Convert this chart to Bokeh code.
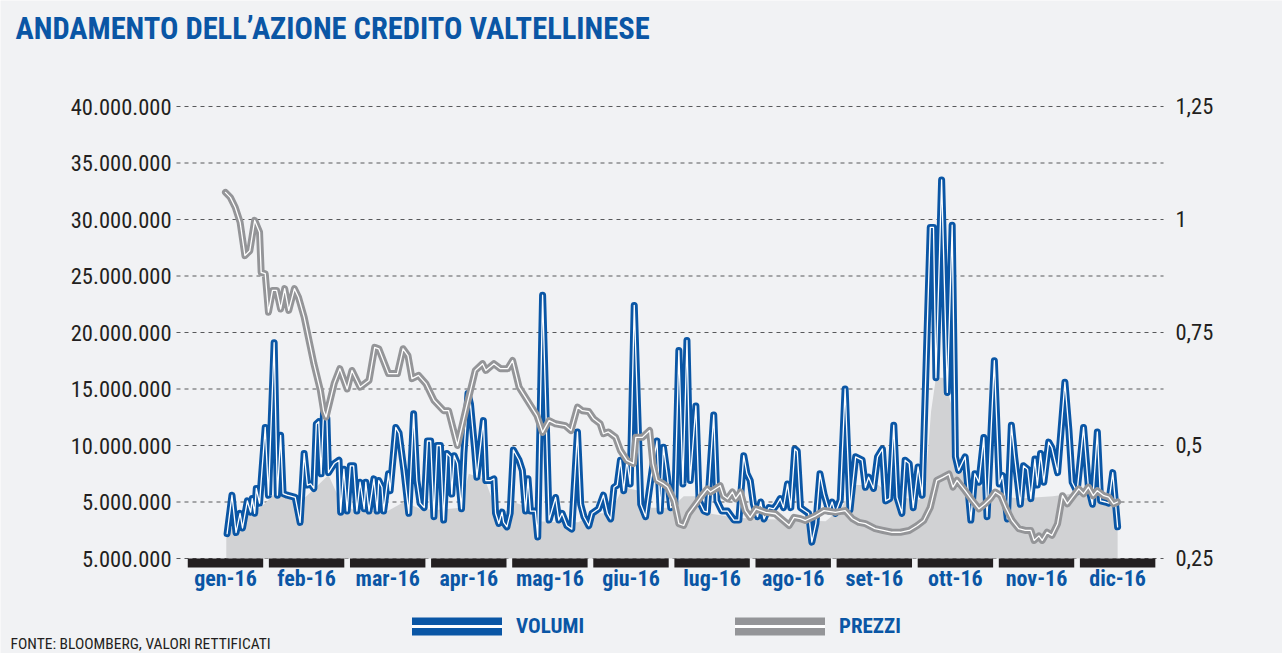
from bokeh.plotting import figure
from bokeh.models import Range1d, LinearAxis, FixedTicker, Label, Legend, LegendItem
from bokeh.embed import file_html
from bokeh.resources import INLINE

# ---------------- data ----------------
TITOLO = "ANDAMENTO DELL\u2019AZIONE CREDITO VALTELLINESE"
FONTE = "FONTE: BLOOMBERG, VALORI RETTIFICATI"
serie = ["VOLUMI", "PREZZI"]

mesi = ["gen-16", "feb-16", "mar-16", "apr-16", "mag-16", "giu-16",
        "lug-16", "ago-16", "set-16", "ott-16", "nov-16", "dic-16"]

tick_volumi = [0, 5, 10, 15, 20, 25, 30, 35, 40]
etichette_volumi = ["5.000.000", "5.000.000", "10.000.000", "15.000.000", "20.000.000",
                    "25.000.000", "30.000.000", "35.000.000", "40.000.000"]
tick_prezzi = [0.25, 0.5, 0.75, 1.0, 1.25]
etichette_prezzi = ["0,25", "0,5", "0,75", "1", "1,25"]

# time in months (0 = gen-16 ... 11 = dic-16), volumes in millions of shares
vol_t = [0.02, 0.08, 0.13, 0.18, 0.21, 0.27, 0.31, 0.33, 0.36, 0.38, 0.42, 0.45, 0.49, 0.53, 0.60,
         0.64, 0.68, 0.71, 0.76, 0.86, 0.92, 0.97, 1.01, 1.05, 1.09, 1.12, 1.15, 1.18, 1.21, 1.25,
         1.27, 1.34, 1.40, 1.42, 1.46, 1.50, 1.54, 1.58, 1.62, 1.66, 1.71, 1.73, 1.77, 1.83, 1.87,
         1.89, 1.93, 1.95, 2.01, 2.03, 2.10, 2.14, 2.20, 2.26, 2.32, 2.36, 2.40, 2.45, 2.49, 2.53,
         2.57, 2.61, 2.65, 2.69, 2.73, 2.77, 2.79, 2.82, 2.86, 2.91, 2.94, 2.99, 3.02, 3.07, 3.10,
         3.18, 3.21, 3.27, 3.31, 3.33, 3.37, 3.41, 3.43, 3.47, 3.51, 3.55, 3.62, 3.66, 3.70, 3.73,
         3.76, 3.82, 3.85, 3.91, 3.99, 4.07, 4.11, 4.15, 4.21, 4.27, 4.34, 4.38, 4.42, 4.48, 4.52,
         4.56, 4.60, 4.66, 4.71, 4.75, 4.79, 4.83, 4.87, 4.91, 4.95, 4.99, 5.04, 5.12, 5.18, 5.26,
         5.32, 5.36, 5.40, 5.45, 5.49, 5.54, 5.59, 5.64, 5.69, 5.73, 5.80, 5.84, 5.90, 5.94, 6.02,
         6.06, 6.12, 6.19, 6.27, 6.33, 6.39, 6.43, 6.47, 6.51, 6.56, 6.60, 6.64, 6.70, 6.76, 6.80,
         6.84, 6.88, 6.93, 6.97, 7.02, 7.05, 7.09, 7.15, 7.19, 7.23, 7.28, 7.33, 7.38, 7.44, 7.48,
         7.52, 7.58, 7.64, 7.70, 7.77, 7.85, 7.89, 7.93, 7.99, 8.04, 8.10, 8.14, 8.19, 8.24, 8.28,
         8.34, 8.38, 8.43, 8.48, 8.54, 8.59, 8.69, 8.73, 8.76, 8.83, 8.90, 8.96, 9.00, 9.04, 9.12,
         9.19, 9.24, 9.29, 9.35, 9.39, 9.48, 9.54, 9.58, 9.64, 9.69, 9.73, 9.80, 9.84, 9.89, 9.93,
         9.98, 10.01, 10.05, 10.09, 10.15, 10.19, 10.26, 10.35, 10.40, 10.44, 10.50, 10.58, 10.64,
         10.69, 10.75, 10.79, 10.85, 10.89, 10.94, 11.00]
vol_v = [2.2, 5.6, 2.3, 4.0, 2.7, 5.1, 4.1, 5.3, 4.0, 6.2, 4.9, 7.8, 11.6, 5.6, 19.1,
         5.6, 10.9, 5.75, 5.6, 5.4, 3.2, 9.3, 6.5, 6.6, 6.2, 11.9, 12.1, 7.5, 13.1, 12.4,
         7.6, 8.4, 8.7, 4.1, 7.9, 4.2, 8.2, 8.2, 4.2, 6.75, 4.4, 6.75, 4.2, 7.05, 4.2,
         6.9, 6.3, 4.2, 7.5, 6.0, 11.6, 11.1, 7.8, 4.0, 12.8, 6.9, 4.9, 4.5, 10.4, 10.4,
         3.7, 10.0, 10.0, 3.4, 9.3, 9.0, 5.7, 9.1, 8.4, 4.4, 9.3, 14.6, 13.7, 9.85, 7.2,
         12.2, 6.9, 6.9, 7.05, 4.0, 3.1, 4.1, 3.2, 2.8, 4.0, 9.6, 8.7, 7.8, 4.2, 7.05,
         4.2, 4.2, 1.9, 23.3, 3.4, 5.4, 3.4, 4.0, 2.9, 2.6, 11.2, 4.8, 3.7, 2.9, 4.0,
         4.2, 4.4, 5.6, 4.0, 3.5, 6.3, 6.5, 8.7, 6.0, 8.7, 6.6, 22.4, 4.8, 3.7, 7.8,
         10.4, 4.2, 9.85, 7.2, 4.5, 4.8, 18.4, 6.6, 19.3, 6.9, 13.5, 5.1, 4.2, 4.1, 12.7,
         5.1, 4.2, 4.2, 3.4, 3.4, 9.1, 7.5, 6.9, 4.8, 3.7, 5.0, 3.5, 4.5, 4.4, 4.8,
         5.3, 4.5, 6.6, 4.5, 9.7, 9.5, 4.5, 4.2, 4.0, 1.45, 3.1, 7.5, 5.7, 4.2, 5.0,
         4.0, 5.2, 15.0, 4.3, 9.0, 8.7, 6.3, 7.2, 6.2, 9.0, 9.7, 5.1, 5.3, 11.8, 5.4,
         4.0, 8.7, 8.4, 4.5, 8.1, 5.6, 29.3, 29.3, 16.0, 33.5, 14.7, 29.5, 9.0, 7.8, 9.0,
         3.4, 7.5, 6.75, 10.7, 3.7, 17.5, 6.6, 7.35, 3.5, 11.8, 9.0, 4.8, 8.2, 7.9, 5.3,
         8.8, 6.5, 9.3, 6.75, 10.3, 9.8, 7.6, 15.6, 11.3, 6.75, 5.9, 11.6, 6.3,
         4.8, 11.2, 5.1, 5.0, 4.9, 7.6, 2.8]

# price in euro
prz_t = [0.00, 0.06, 0.12, 0.18, 0.24, 0.30, 0.36, 0.42, 0.44, 0.49, 0.53, 0.58, 0.63, 0.68, 0.73,
         0.78, 0.85, 0.90, 0.97, 1.09, 1.17, 1.21, 1.24, 1.34, 1.41, 1.50, 1.56, 1.66, 1.77, 1.84,
         1.89, 2.01, 2.12, 2.19, 2.25, 2.30, 2.38, 2.47, 2.57, 2.69, 2.75, 2.86, 2.98, 3.08, 3.17,
         3.21, 3.31, 3.39, 3.48, 3.54, 3.62, 3.84, 3.91, 3.99, 4.07, 4.19, 4.26, 4.34, 4.40, 4.48,
         4.54, 4.62, 4.66, 4.72, 4.81, 4.87, 4.95, 5.03, 5.06, 5.14, 5.23, 5.27, 5.32, 5.40, 5.45,
         5.53, 5.59, 5.65, 5.71, 5.80, 5.86, 5.94, 5.98, 6.10, 6.14, 6.19, 6.25, 6.29, 6.35, 6.41,
         6.47, 6.54, 6.66, 6.78, 6.95, 7.01, 7.09, 7.15, 7.28, 7.38, 7.52, 7.64, 7.73, 7.81, 7.89,
         8.01, 8.11, 8.22, 8.32, 8.43, 8.53, 8.61, 8.69, 8.77, 8.85, 8.92, 8.97, 9.02, 9.12, 9.21,
         9.29, 9.36, 9.43, 9.49, 9.56, 9.62, 9.70, 9.78, 9.86, 9.93, 9.97, 10.03, 10.07, 10.13,
         10.19, 10.26, 10.32, 10.38, 10.52, 10.58, 10.64, 10.70, 10.75, 10.83, 10.89, 10.95, 11.00]
prz_v = [1.060, 1.049, 1.027, 0.994, 0.920, 0.931, 0.998, 0.972, 0.883, 0.880, 0.795, 0.843, 0.843,
         0.802, 0.847, 0.799, 0.847, 0.828, 0.784, 0.681, 0.622, 0.577, 0.563, 0.637, 0.670, 0.625,
         0.666, 0.629, 0.644, 0.717, 0.714, 0.659, 0.659, 0.714, 0.699, 0.648, 0.655, 0.637, 0.600,
         0.577, 0.577, 0.500, 0.592, 0.666, 0.681, 0.666, 0.681, 0.670, 0.670, 0.688, 0.629, 0.566,
         0.529, 0.555, 0.548, 0.544, 0.533, 0.585, 0.577, 0.575, 0.559, 0.548, 0.526, 0.530, 0.518,
         0.489, 0.467, 0.460, 0.518, 0.518, 0.533, 0.460, 0.423, 0.415, 0.408, 0.378, 0.327, 0.323,
         0.349, 0.371, 0.386, 0.404, 0.397, 0.411, 0.389, 0.382, 0.397, 0.382, 0.397, 0.356, 0.341,
         0.360, 0.352, 0.349, 0.323, 0.341, 0.338, 0.334, 0.345, 0.356, 0.352, 0.356, 0.338, 0.330,
         0.327, 0.316, 0.312, 0.308, 0.308, 0.312, 0.323, 0.334, 0.363, 0.423, 0.430, 0.437, 0.408,
         0.423, 0.400, 0.378, 0.360, 0.370, 0.382, 0.397, 0.389, 0.363, 0.334, 0.316, 0.312, 0.312,
         0.290, 0.300, 0.290, 0.308, 0.301, 0.327, 0.389, 0.371, 0.404, 0.393, 0.408, 0.389, 0.400,
         0.389, 0.386, 0.371, 0.375]

# shaded base of volumes (millions)
base_t = [0.01, 0.12, 0.33, 0.49, 0.58, 0.86, 0.92, 1.07, 1.27, 1.42, 1.60, 2.00, 2.20, 2.40,
          2.60, 2.90, 3.00, 3.20, 3.30, 3.40, 3.55, 3.75, 3.85, 4.10, 4.35, 4.55, 4.75, 4.90,
          5.10, 5.25, 5.50, 5.65, 5.80, 5.95, 6.30, 6.60, 7.00, 7.40, 7.60, 7.75, 8.05, 8.20,
          8.55, 8.62, 8.70, 8.76, 8.85, 8.90, 8.97, 9.03, 9.30, 9.45, 9.80, 10.20, 10.50, 11.00]
base_v = [2.2, 3.1, 4.0, 4.9, 5.6, 5.6, 5.0, 6.0, 7.4, 5.0, 4.2, 4.2, 5.0, 4.4,
          4.3, 4.5, 7.5, 7.0, 5.0, 3.6, 5.0, 4.5, 3.3, 3.2, 3.2, 4.0, 4.0, 6.3,
          6.0, 4.5, 4.5, 5.5, 5.5, 4.0, 3.6, 3.5, 3.4, 3.3, 4.5, 6.5, 6.5, 5.5,
          5.2, 5.6, 13.0, 16.0, 16.0, 15.0, 13.0, 8.0, 6.5, 5.6, 5.3, 5.5, 5.8, 5.1]

# ---------------- style / layout ----------------
BG = "#f1f2f4"
BLU = "#0a56a5"
GRIGIO = "#949598"
AREA = "#d1d2d4"
NERO = "#231f20"
FONT = "'Roboto Condensed', 'Liberation Sans Narrow', Roboto"

# plotting window (months / millions) and where the axes sit
X_MIN, X_MAX = -2.774, 13.033
V_MIN, V_MAX = -8.407, 49.381
P_MIN, P_MAX = 0.0398, 1.4845
ASSE_SX, ASSE_DX, ASSE_BASSO = -0.604, 11.566, -0.885

p = figure(width=1282, height=653,
           x_range=Range1d(X_MIN, X_MAX), y_range=Range1d(V_MIN, V_MAX),
           x_axis_type=None, y_axis_type=None,
           output_backend="svg", toolbar_location=None, min_border=0)
p.background_fill_color = BG
p.border_fill_color = BG
p.outline_line_color = None
p.xgrid.visible = False
p.ygrid.visible = False
p.extra_y_ranges = {"prezzo": Range1d(P_MIN, P_MAX)}


def stile_asse(a, standoff, size="22.5px", color=NERO, bold=False):
    a.axis_line_color = None
    a.major_tick_line_color = None
    a.minor_tick_line_color = None
    a.major_tick_out = 0
    a.major_tick_in = 0
    a.minor_tick_out = 0
    a.minor_tick_in = 0
    a.major_label_standoff = standoff
    a.major_label_text_font = FONT
    a.major_label_text_font_size = size
    a.major_label_text_color = color
    if bold:
        a.major_label_text_font_style = "bold"


# dashed horizontal grid between the two axes
n = len(tick_volumi)
p.segment(x0=[ASSE_SX] * n, x1=[ASSE_DX] * n, y0=tick_volumi, y1=tick_volumi,
          line_color="#58595b", line_dash="4 4", line_width=1.2)

# left axis (volumes)
ay = LinearAxis(fixed_location=ASSE_SX, ticker=FixedTicker(ticks=tick_volumi))
ay.major_label_overrides = {t: l for t, l in zip(tick_volumi, etichette_volumi)}
stile_asse(ay, 5)
p.add_layout(ay, "left")

# right axis (prices)
ar = LinearAxis(y_range_name="prezzo", fixed_location=ASSE_DX,
                ticker=FixedTicker(ticks=tick_prezzi))
ar.major_label_overrides = {t: l for t, l in zip(tick_prezzi, etichette_prezzi)}
stile_asse(ar, 12)
p.add_layout(ar, "right")

# month axis
ax = LinearAxis(fixed_location=ASSE_BASSO, ticker=FixedTicker(ticks=list(range(len(mesi)))))
ax.major_label_overrides = {i: m for i, m in enumerate(mesi)}
stile_asse(ax, -3, size="22px", color=BLU, bold=True)
p.add_layout(ax, "below")

# shaded area
p.varea(x=base_t, y1=[0] * len(base_t), y2=base_v, fill_color=AREA)

# month bars under the baseline
idx = list(range(len(mesi)))
p.quad(left=[i - 0.465 for i in idx], right=[i + 0.465 for i in idx],
       bottom=[-0.8] * len(idx), top=[0] * len(idx), fill_color=NERO, line_color=None)

# volumes
p.line(vol_t, vol_v, line_width=7, line_color=BLU, line_join="round", line_cap="round")
p.line(vol_t, vol_v, line_width=1.3, line_color="white", line_join="round", line_cap="round")

# prices
p.line(prz_t, prz_v, y_range_name="prezzo", line_width=7, line_color=GRIGIO,
       line_join="round", line_cap="round")
p.line(prz_t, prz_v, y_range_name="prezzo", line_width=1.3, line_color="white",
       line_join="round", line_cap="round")

# legend (glyph-only renderers, nothing drawn in the plot)
nan = [float("nan")]
lv1 = p.line(x=nan, y=nan, line_width=18, line_color=BLU, line_cap="round")
lv2 = p.line(x=nan, y=nan, line_width=3, line_color="white", line_cap="round")
lp1 = p.line(x=nan, y=nan, line_width=18, line_color=GRIGIO, line_cap="round")
lp2 = p.line(x=nan, y=nan, line_width=3, line_color="white", line_cap="round")
leg = Legend(items=[LegendItem(label=serie[0], renderers=[lv1, lv2]),
                    LegendItem(label=serie[1], renderers=[lp1, lp2])],
             orientation="horizontal", location=(412, 14),
             glyph_width=90, glyph_height=26, label_height=26, label_standoff=14,
             label_width=219, spacing=0, padding=0, margin=0,
             border_line_color=None, background_fill_alpha=0,
             label_text_font=FONT, label_text_font_size="21px",
             label_text_font_style="bold", label_text_color=BLU)
p.add_layout(leg)

# title and source
p.add_layout(Label(x=15, y=625, x_units="screen", y_units="screen", text=TITOLO,
                   text_font=FONT, text_font_size="30.5px", text_font_style="bold",
                   text_color=BLU, text_baseline="middle"))
p.add_layout(Label(x=10, y=10, x_units="screen", y_units="screen", text=FONTE,
                   text_font=FONT, text_font_size="15.5px", text_color=NERO,
                   text_baseline="middle"))

open("out.html", "w").write(file_html(p, INLINE))
